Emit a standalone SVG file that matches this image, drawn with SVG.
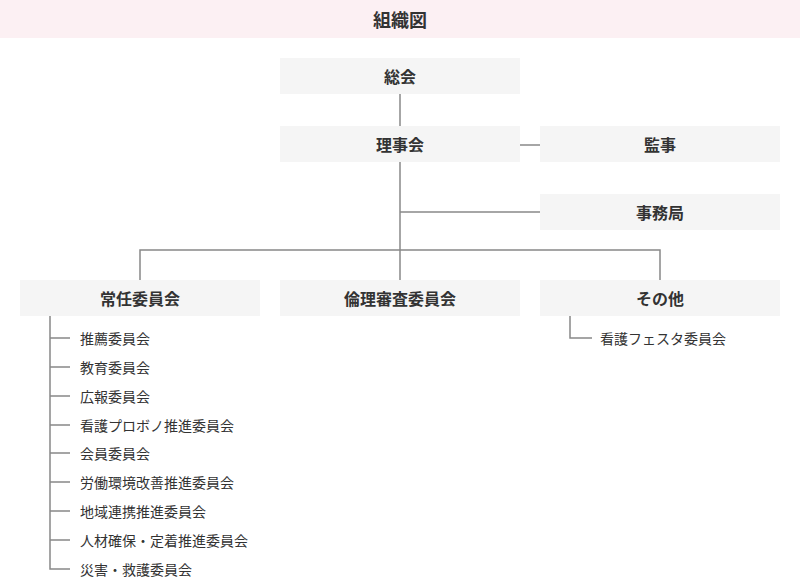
<svg xmlns="http://www.w3.org/2000/svg" width="800" height="584" viewBox="0 0 800 584">
<style>
.box{fill:#f5f5f5}
.lbl{font-family:"Noto Sans CJK JP","Noto Sans",sans-serif;font-size:16px;font-weight:bold;fill:#333;text-anchor:middle;dominant-baseline:central}
.item{font-family:"Noto Sans CJK JP","Noto Sans",sans-serif;font-size:14px;fill:#333;dominant-baseline:central}
.ln{stroke:#888;stroke-width:1.5;fill:none}
</style>
<rect x="0" y="0" width="800" height="38" fill="#fcf0f3"/>
<text x="400" y="19" class="lbl" style="font-size:18px">組織図</text>
<g id="connectors">
<path class="ln" d="M400 94V126"/>
<path class="ln" d="M520 145H540"/>
<path class="ln" d="M400 162V280"/>
<path class="ln" d="M400 212H540"/>
<path class="ln" d="M140 280V250H660V280"/>
<path class="ln" d="M50 316V569H70"/>
<path class="ln" d="M50 338H70M50 367H70M50 396H70M50 425H70M50 453H70M50 482H70M50 511H70M50 540H70"/>
<path class="ln" d="M570 316V338H592"/>
</g>
<g id="soukai"><rect class="box" x="280" y="58" width="240" height="36"/><text class="lbl" x="400" y="76">総会</text></g>
<g id="rijikai"><rect class="box" x="280" y="126" width="240" height="36"/><text class="lbl" x="400" y="144">理事会</text></g>
<g id="kanji"><rect class="box" x="540" y="126" width="240" height="36"/><text class="lbl" x="660" y="144">監事</text></g>
<g id="jimukyoku"><rect class="box" x="540" y="194" width="240" height="36"/><text class="lbl" x="660" y="212">事務局</text></g>
<g id="jonin"><rect class="box" x="20" y="280" width="240" height="36"/><text class="lbl" x="140" y="298">常任委員会</text></g>
<g id="rinri"><rect class="box" x="280" y="280" width="240" height="36"/><text class="lbl" x="400" y="298">倫理審査委員会</text></g>
<g id="sonota"><rect class="box" x="540" y="280" width="240" height="36"/><text class="lbl" x="660" y="298">その他</text></g>
<g id="jonin-items">
<text class="item" x="80" y="338">推薦委員会</text>
<text class="item" x="80" y="367">教育委員会</text>
<text class="item" x="80" y="396">広報委員会</text>
<text class="item" x="80" y="425">看護プロボノ推進委員会</text>
<text class="item" x="80" y="453">会員委員会</text>
<text class="item" x="80" y="482">労働環境改善推進委員会</text>
<text class="item" x="80" y="511">地域連携推進委員会</text>
<text class="item" x="80" y="540">人材確保・定着推進委員会</text>
<text class="item" x="80" y="569">災害・救護委員会</text>
</g>
<g id="sonota-items">
<text class="item" x="600" y="338">看護フェスタ委員会</text>
</g>
</svg>
